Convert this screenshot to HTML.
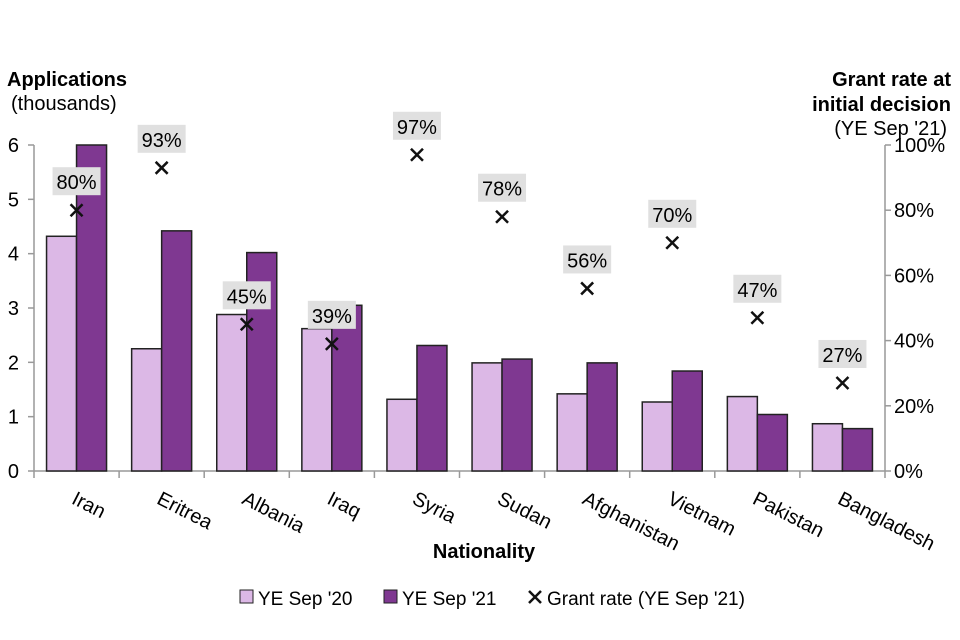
<!DOCTYPE html>
<html><head><meta charset="utf-8"><style>
body{margin:0;background:#fff;}
svg{display:block;font-family:"Liberation Sans",Arial,sans-serif;}
</style></head><body>
<svg id="chart" width="960" height="640" viewBox="0 0 960 640">
<text x="7" y="86" font-size="20" font-weight="bold">Applications</text>
<text x="11" y="110" font-size="20">(thousands)</text>
<text x="951" y="86" font-size="20" font-weight="bold" text-anchor="end">Grant rate at</text>
<text x="951" y="111" font-size="20" font-weight="bold" text-anchor="end">initial decision</text>
<text x="947" y="135" font-size="20" text-anchor="end">(YE Sep '21)</text>
<text x="484" y="558" font-size="20" font-weight="bold" text-anchor="middle">Nationality</text>
<g id="plot"></g>
<g>
<rect x="240" y="590" width="13" height="13" fill="#dcb8e6" stroke="#222"/>
<text x="258" y="605" font-size="19">YE Sep '20</text>
<rect x="384" y="590" width="13" height="13" fill="#7f3891" stroke="#222"/>
<text x="402" y="605" font-size="19">YE Sep '21</text>
<path d="M529,591 L541,603 M541,591 L529,603" stroke="#111" stroke-width="2.5"/>
<text x="547" y="605" font-size="19">Grant rate (YE Sep '21)</text>
</g>
</svg>
<script>
const categories=["Iran","Eritrea","Albania","Iraq","Syria","Sudan","Afghanistan","Vietnam","Pakistan","Bangladesh"];
const apps2020=[4.32,2.25,2.88,2.62,1.32,1.99,1.42,1.27,1.37,0.87];
const apps2021=[6.0,4.42,4.02,3.05,2.31,2.06,1.99,1.84,1.04,0.78];
const grantRate=[80,93,45,39,97,78,56,70,47,27];
const leftTicks=[0,1,2,3,4,5,6];
const rightTicks=[0,20,40,60,80,100];
const NS="http://www.w3.org/2000/svg";
const X0=34,X1=885,Y0=471,Y1=145;
const band=(X1-X0)/categories.length;
const yL=v=>Y0-(v/6)*(Y0-Y1);
const yR=v=>Y0-(v/100)*(Y0-Y1);
const xC=i=>X0+band*(i+0.5);
const g=document.getElementById('plot');
function mk(t,a,txt){const e=document.createElementNS(NS,t);for(const k in a)e.setAttribute(k,a[k]);if(txt!==undefined)e.textContent=txt;g.appendChild(e);return e;}
let e=mk('path',{d:`M${X0},${Y1} L${X0},${Y0} L${X1},${Y0} L${X1},${Y1}`,fill:'none',stroke:'#999','stroke-width':1.5});


leftTicks.forEach(t=>{
 let l=mk('line',{x1:X0-6,x2:X0,y1:yL(t),y2:yL(t),stroke:'#999','stroke-width':1.5});
 
 
 let tx=mk('text',{x:19,y:yL(t)+7,'font-size':20,'text-anchor':'end'},t);
 
 
});
rightTicks.forEach(t=>{
 let l=mk('line',{x1:X1,x2:X1+6,y1:yR(t),y2:yR(t),stroke:'#999','stroke-width':1.5});
 
 
 let tx=mk('text',{x:894,y:yR(t)+7,'font-size':20},t+'%');
 
 
});
for(let i=0;i<=categories.length;i++){
 let l=mk('line',{x1:X0+band*i,x2:X0+band*i,y1:Y0,y2:Y0+7,stroke:'#999','stroke-width':1.5});
 
 
}
const bw=30;
categories.forEach((c,i)=>{
 const cx=xC(i);
 let r1=mk('rect',{x:cx-bw,y:yL(apps2020[i]),width:bw,height:Y0-yL(apps2020[i]),fill:'#dcb8e6',stroke:'#222','stroke-width':1.5});
 
 
 let r2=mk('rect',{x:cx,y:yL(apps2021[i]),width:bw,height:Y0-yL(apps2021[i]),fill:'#7f3891',stroke:'#222','stroke-width':1.5});
 
 
 const my=yR(grantRate[i]);
 let bx=mk('rect',{x:cx-24,y:my-43,width:48,height:28,fill:'#e0e0e0'});
 
 
 let lt=mk('text',{x:cx,y:my-21,'font-size':20,'text-anchor':'middle'},grantRate[i]+'%');
 
 
 let m=mk('path',{d:`M${cx-6},${my-6} L${cx+6},${my+6} M${cx+6},${my-6} L${cx-6},${my+6}`,stroke:'#111','stroke-width':2.5});
 
 
 let xl=mk('text',{x:0,y:0,'font-size':20,transform:`translate(${cx-6},${503}) rotate(27)`},c);
 
 
});
</script>
</body></html>
